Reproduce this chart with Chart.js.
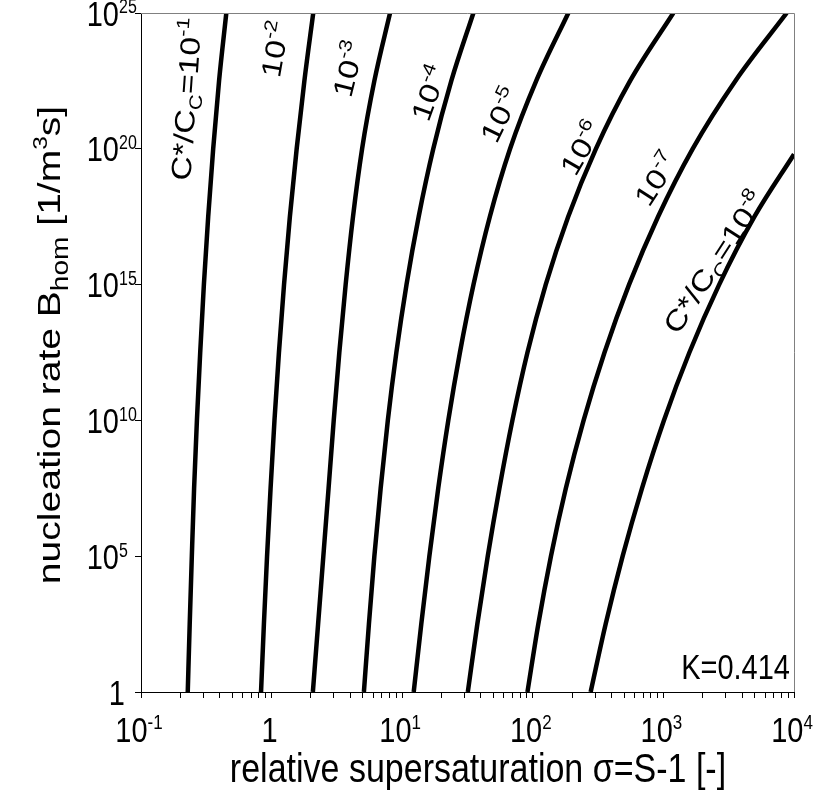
<!DOCTYPE html>
<html>
<head>
<meta charset="utf-8">
<script src="https://cdn.jsdelivr.net/npm/chart.js@4.4.1/dist/chart.umd.min.js"></script>
<style>
    html, body { margin: 0; padding: 0; background: #fff; }
    #wrap { width: 837px; height: 790px; }
</style>
</head>
<body>
<div id="wrap"><canvas id="nucleationChart" width="837" height="790"></canvas></div>
<script>
// nucleation rate B_hom [1/m3s] at which the sigma values below were read
const rateB = [1, 3.16e2, 1e5, 3.16e7, 1e10, 3.16e12, 1e15, 3.16e17, 1e20, 3.16e22, 1e25];
const rateB8 = [1, 3.16e2, 1e5, 3.16e7, 1e10, 3.16e12, 1e15, 3.16e17, 6.3e19];

// relative supersaturation sigma for each C*/Cc
const sigma1 = [0.228, 0.236, 0.245, 0.255, 0.268, 0.284, 0.303, 0.327, 0.357, 0.396, 0.450];
const sigma2 = [0.830, 0.873, 0.923, 0.982, 1.052, 1.138, 1.245, 1.380, 1.556, 1.782, 2.084];
const sigma3 = [2.07, 2.27, 2.49, 2.73, 2.99, 3.30, 3.69, 4.20, 4.93, 6.12, 8.07];
const sigma4 = [5.09, 5.56, 6.12, 6.84, 7.76, 9.02, 10.79, 13.37, 17.30, 23.77, 35.08];
const sigma5 = [12.25, 14.00, 16.14, 18.88, 22.54, 27.67, 35.16, 46.88, 66.99, 106.2, 187.1];
const sigma6 = [31.8, 37.6, 45.2, 55.5, 69.8, 91.0, 125.6, 186.6, 304.1, 555.9, 1191];
const sigma7 = [91.0, 110.2, 137.7, 179.1, 244.9, 354.0, 545.8, 909.9, 1675, 3556, 8790];
const sigma8 = [277.3, 361.4, 487.5, 685.5, 1009, 1581, 2673, 4977, 10000];

const xTickValues = [0.1, 1, 10, 100, 1000, 10000];
const xTickLabels = [['10', '-1'], ['1', ''], ['10', '1'], ['10', '2'], ['10', '3'], ['10', '4']];
const yTickValues = [1, 1e5, 1e10, 1e15, 1e20, 1e25];
const yTickLabels = [['1', ''], ['10', '5'], ['10', '10'], ['10', '15'], ['10', '20'], ['10', '25']];

const FONT = '"Liberation Sans", Arial, sans-serif';
const SY = 1.22; // axis text in the original looks stretched vertically
const STRETCH = 1.2; // curve labels look stretched along their reading direction

function toPoints(xs, ys) {
    return xs.map((x, i) => ({ x, y: ys[i] }));
}

function curve(xs, ys) {
    return {
        data: toPoints(xs, ys),
        showLine: true,
        borderColor: '#000',
        borderWidth: 4.5,
        pointRadius: 0,
        cubicInterpolationMode: 'monotone',
        clip: 0
    };
}

function measure(ctx, parts) {
    let total = 0;
    parts.forEach(p => {
        ctx.font = p.size + 'px ' + FONT;
        p.w = ctx.measureText(p.text).width;
        total += p.w;
    });
    return total;
}

// draw pieces of text starting at cx on baseline y
function drawParts(ctx, parts, cx, y) {
    ctx.textAlign = 'left';
    ctx.textBaseline = 'alphabetic';
    parts.forEach(p => {
        ctx.font = p.size + 'px ' + FONT;
        ctx.fillText(p.text, cx, y + (p.dy || 0));
        cx += p.w;
    });
}

function drawRich(ctx, parts, x, y, align) {
    const total = measure(ctx, parts);
    let cx = x;
    if (align === 'right') cx = x - total;
    if (align === 'center') cx = x - total / 2;
    drawParts(ctx, parts, cx, y);
}

function sup(text, size) {
    return { text, size, dy: -Math.round(size * 0.65) };
}

// stretched axis text at a screen point
function placeText(ctx, x, y, angleDeg, fn) {
    ctx.save();
    ctx.translate(x, y);
    ctx.scale(1, SY);
    ctx.rotate(angleDeg * Math.PI / 180);
    fn();
    ctx.restore();
}

// labels written along the curves: [pieces, sigma, B, screen angle]
const curveTexts = [
    [[{ text: 'C*/C', size: 28 }, { text: 'C', size: 18, dy: 6 }, { text: '=10', size: 28 }, sup('-1', 18)], 0.221, 6.8e21, -86],
    [[{ text: '10', size: 28 }, sup('-2', 18)], 1.06, 4.7e23, -80],
    [[{ text: '10', size: 28 }, sup('-3', 18)], 3.85, 8.7e22, -76],
    [[{ text: '10', size: 28 }, sup('-4', 18)], 16.0, 1.13e22, -70],
    [[{ text: '10', size: 28 }, sup('-5', 18)], 56.1, 1.75e21, -64],
    [[{ text: '10', size: 28 }, sup('-6', 18)], 234, 1.07e20, -60],
    [[{ text: '10', size: 28 }, sup('-7', 18)], 877, 7.7e18, -57],
    [[{ text: 'C*/C', size: 28 }, { text: 'C', size: 18, dy: 6 }, { text: '=10', size: 28 }, sup('-8', 18)], 2438, 6.8e15, -57]
];

const textPlugin = {
    id: 'textPlugin',
    afterDraw(chart) {
        const ctx = chart.ctx;
        const xs = chart.scales.x;
        const ys = chart.scales.y;
        const area = chart.chartArea;
        ctx.save();

        // light frame on top and right
        ctx.strokeStyle = '#808080';
        ctx.lineWidth = 1;
        ctx.beginPath();
        ctx.moveTo(area.left, area.top + 0.5);
        ctx.lineTo(area.right + 0.5, area.top + 0.5);
        ctx.lineTo(area.right + 0.5, area.bottom);
        ctx.stroke();

        ctx.fillStyle = '#000';

        // x tick labels centred on the tick
        xTickValues.forEach((v, i) => {
            const px = xs.getPixelForValue(v);
            const parts = [{ text: xTickLabels[i][0], size: 29 }];
            if (xTickLabels[i][1]) parts.push(sup(xTickLabels[i][1], 17));
            placeText(ctx, px - 2, 742, 0, () => drawRich(ctx, parts, 0, 0, 'center'));
        });

        // y tick labels: base right-aligned, exponent toward the axis
        yTickValues.forEach((v, i) => {
            const py = ys.getPixelForValue(v);
            const base = [{ text: yTickLabels[i][0], size: 29 }];
            const bw = measure(ctx, base);
            const parts = base.concat(yTickLabels[i][1] ? [sup(yTickLabels[i][1], 16)] : []);
            measure(ctx, parts);
            const right = yTickLabels[i][1] ? 119 : 125;
            placeText(ctx, right, py + 12.5, 0, () => drawParts(ctx, parts, -bw, 0));
        });

        // curve labels: stretched along the text, no shear
        curveTexts.forEach(([parts, vx, vy, ang]) => {
            const copy = parts.map(p => Object.assign({}, p));
            ctx.save();
            ctx.translate(xs.getPixelForValue(vx), ys.getPixelForValue(vy));
            ctx.rotate(ang * Math.PI / 180);
            ctx.scale(STRETCH, 1);
            drawRich(ctx, copy, 0, 10, 'center');
            ctx.restore();
        });

        placeText(ctx, area.right - 4, area.bottom - 13, 0,
            () => drawRich(ctx, [{ text: 'K=0.414', size: 29 }], 0, 0, 'right'));

        placeText(ctx, 478, 782, 0,
            () => drawRich(ctx, [{ text: 'relative supersaturation \u03c3=S-1 [-]', size: 34 }], 0, 0, 'center'));

        placeText(ctx, 60, 345, -90, () => drawRich(ctx, [
            { text: 'nucleation rate B', size: 32 },
            { text: 'hom', size: 23, dy: 8 },
            { text: ' [1/m', size: 32 },
            { text: '3', size: 20, dy: -13 },
            { text: 's]', size: 32 }
        ], 0, 0, 'center'));

        ctx.restore();
    }
};

const axisGrid = {
    drawOnChartArea: false,
    drawTicks: true,
    tickLength: 6,
    color: '#000',
    lineWidth: 1
};

new Chart(document.getElementById('nucleationChart'), {
    type: 'scatter',
    data: {
        datasets: [
            curve(sigma1, rateB),
            curve(sigma2, rateB),
            curve(sigma3, rateB),
            curve(sigma4, rateB),
            curve(sigma5, rateB),
            curve(sigma6, rateB),
            curve(sigma7, rateB),
            curve(sigma8, rateB8)
        ]
    },
    options: {
        responsive: false,
        animation: false,
        events: [],
        layout: {
            padding: { left: 135, right: 43, top: 13, bottom: 92 }
        },
        plugins: {
            legend: { display: false },
            tooltip: { enabled: false }
        },
        scales: {
            x: {
                type: 'logarithmic',
                min: 0.1,
                max: 10000,
                afterBuildTicks: scale => {
                    const ticks = [];
                    for (let e = -1; e < 4; e++) {
                        for (let m = 1; m < 10; m++) ticks.push({ value: m * Math.pow(10, e) });
                    }
                    ticks.push({ value: 10000 });
                    scale.ticks = ticks;
                },
                ticks: { display: false },
                grid: axisGrid,
                border: { color: '#000', width: 1 }
            },
            y: {
                type: 'logarithmic',
                min: 1,
                max: 1e25,
                afterBuildTicks: scale => {
                    scale.ticks = yTickValues.map(v => ({ value: v }));
                },
                ticks: { display: false },
                grid: axisGrid,
                border: { color: '#000', width: 1 }
            }
        }
    },
    plugins: [textPlugin]
});
</script>
</body>
</html>
